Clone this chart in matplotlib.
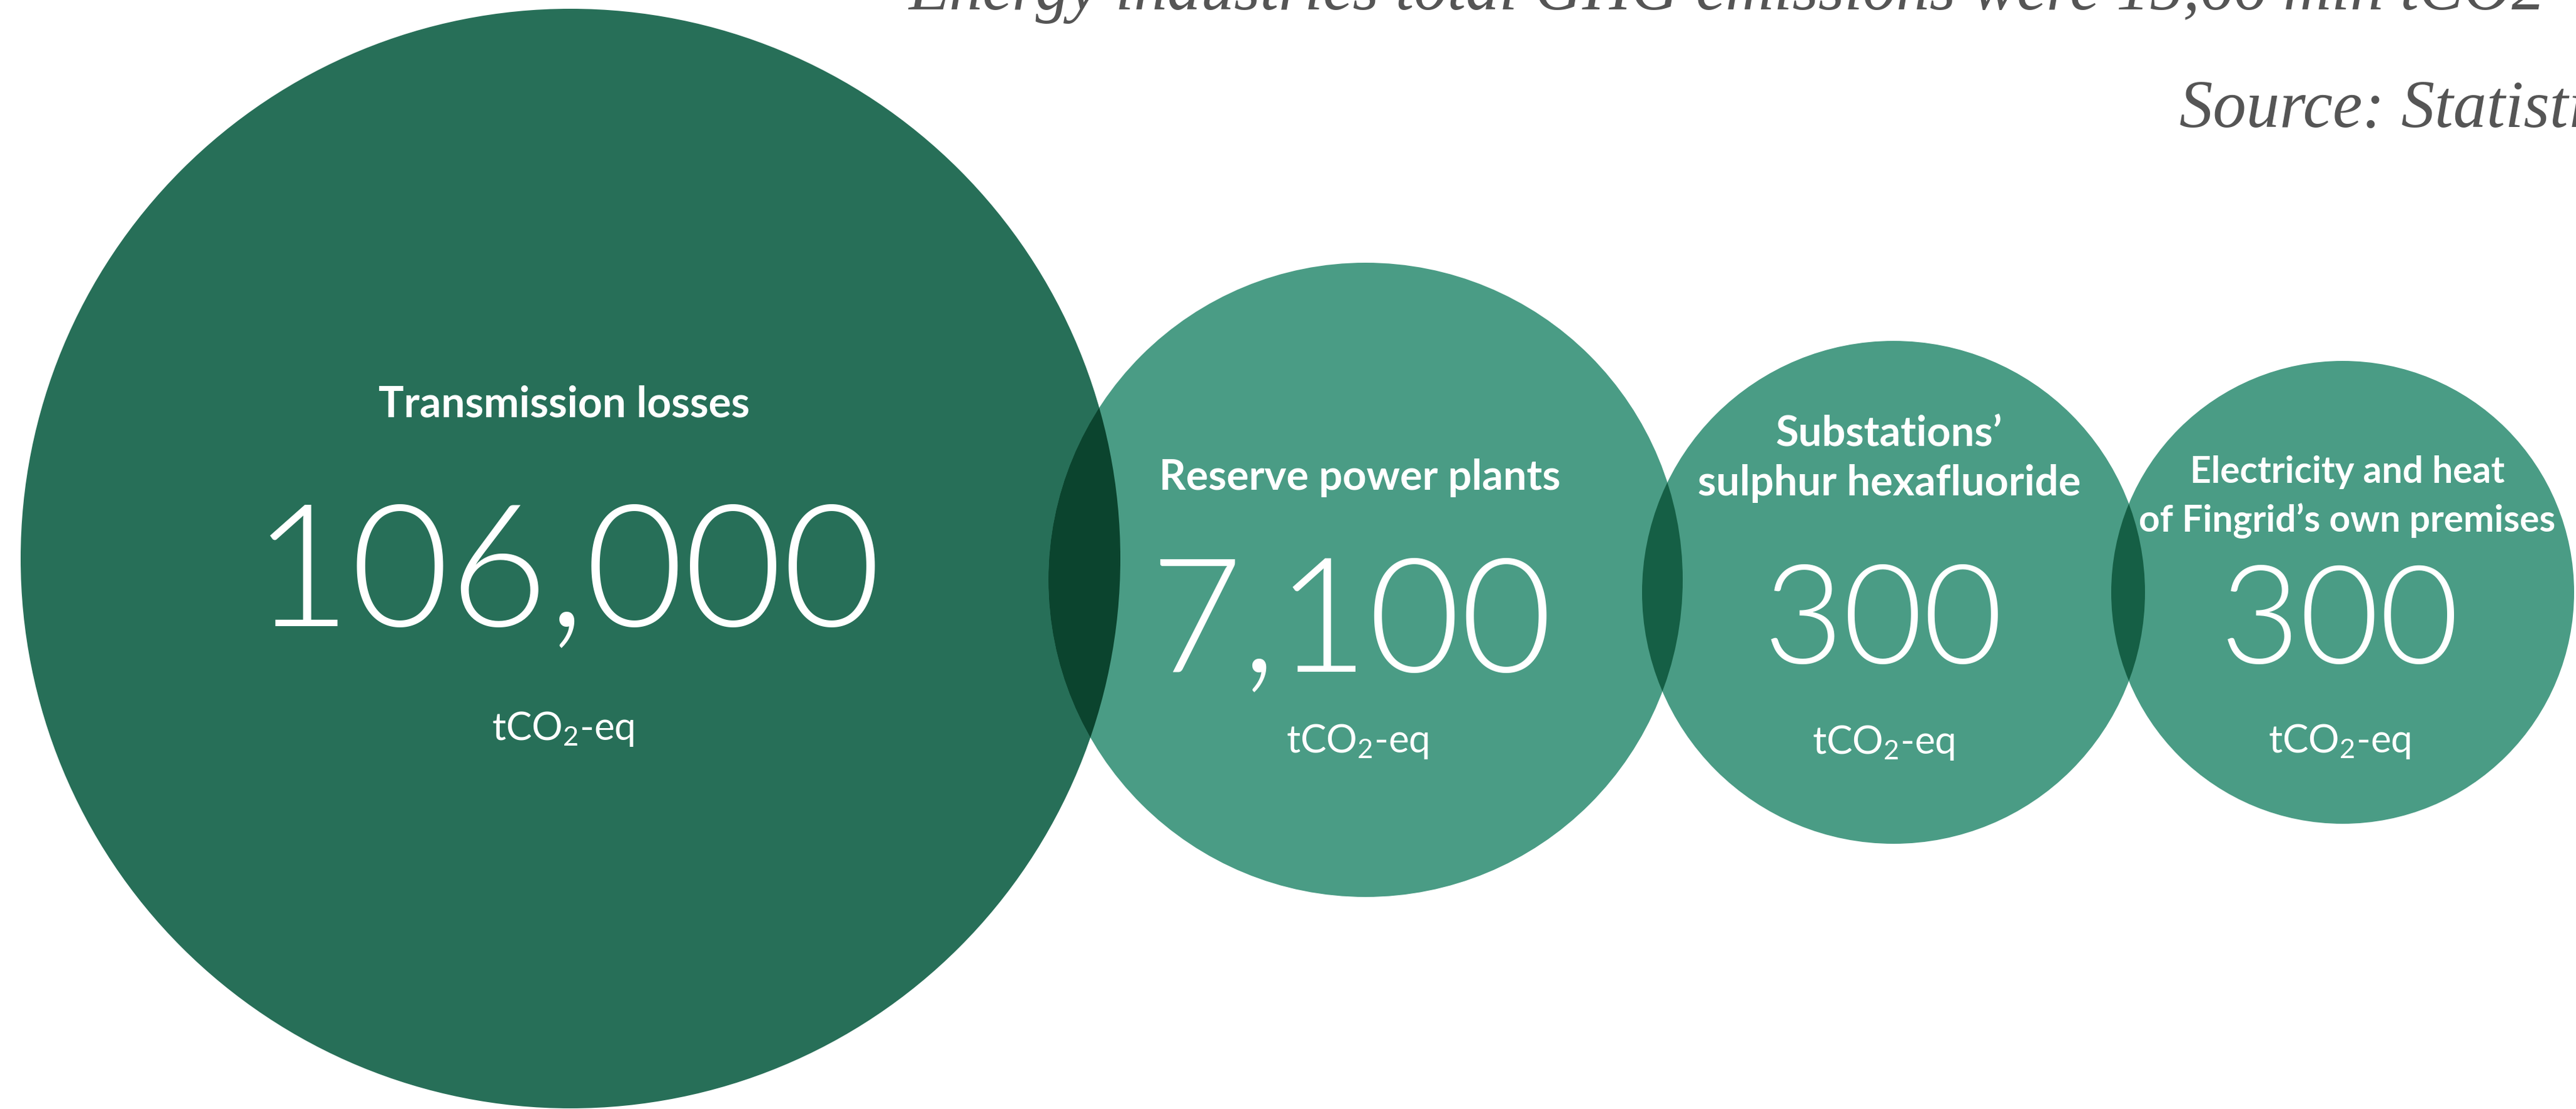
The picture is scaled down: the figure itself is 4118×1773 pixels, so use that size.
import os
import matplotlib
matplotlib.use("Agg")
import matplotlib.pyplot as plt
from matplotlib.patches import Circle
from matplotlib import colors as mcolors
from matplotlib import font_manager as fm

# ---- data -------------------------------------------------------------
categories = [
    ["Transmission losses"],
    ["Reserve power plants"],
    ["Substations\u2019", "sulphur hexafluoride"],
    ["Electricity and heat", "of Fingrid\u2019s own premises"],
]
values = [106000, 7100, 300, 300]
unit = "tCO$_2$-eq"
headline = "Energy industries total GHG emissions were 15,66 mln tCO2"
source = "Source: Statistics"

# ---- layout (pixel space, origin top-left) -----------------------------
W, H = 4118, 1774
centers = [(912, 894), (2183, 928), (3027, 948), (3745, 948)]
radii = [879, 507, 402, 370]
fills = ["#276F58", "#4A9C85", "#4A9C85", "#4A9C85"]

label_x = [902, 2174, 3020, 3752]
label_baselines = [[667], [783], [714, 792], [772, 850]]
label_widths = [593, 641, 612, 665]

number_x = [906, 2160, 3011, 3740]
number_baseline = [1000, 1073, 1060, 1060]
number_widths = [1006, 644, 384, 383]

unit_x = [900, 2170, 3011, 3740]
unit_baseline = [1183, 1203, 1205, 1203]
unit_width = 229

plt.rcParams["mathtext.fontset"] = "custom"
plt.rcParams["mathtext.rm"] = "Lato"
plt.rcParams["mathtext.default"] = "regular"


def light_face():
    """Prefer the upright Lato Light file for the big figures."""
    for f in fm.fontManager.ttflist:
        base = os.path.basename(f.fname).lower()
        if base.startswith("lato-light") and "italic" not in base:
            return fm.FontProperties(fname=f.fname)
    return fm.FontProperties(family="Lato", weight="normal")


number_font = light_face()

fig = plt.figure(figsize=(W / 100, H / 100), dpi=100)
ax = fig.add_axes([0, 0, 1, 1])
ax.set_xlim(0, W)
ax.set_ylim(H, 0)
ax.set_aspect("equal")
ax.axis("off")


def multiply(c1, c2):
    a = mcolors.to_rgb(c1)
    b = mcolors.to_rgb(c2)
    return tuple(x * y for x, y in zip(a, b))


# bubbles
for (cx, cy), r, fc in zip(centers, radii, fills):
    ax.add_patch(Circle((cx, cy), r, facecolor=fc, edgecolor="none", zorder=1))

# overlapping lenses, shaded like a multiply blend
for i in range(len(centers) - 1):
    clip = Circle(centers[i], radii[i], transform=ax.transData)
    lens = Circle(centers[i + 1], radii[i + 1],
                  facecolor=multiply(fills[i], fills[i + 1]),
                  edgecolor="none", zorder=2)
    ax.add_patch(lens)
    lens.set_clip_path(clip)

fig.canvas.draw()
renderer = fig.canvas.get_renderer()


def fit_width(t, target):
    w = t.get_window_extent(renderer).width
    t.set_fontsize(t.get_fontsize() * target / w)
    return t.get_fontsize()


white = "#FFFFFF"
for i in range(4):
    lines = categories[i]
    longest = max(range(len(lines)), key=lambda k: len(lines[k]))
    probe = ax.text(label_x[i], label_baselines[i][longest], lines[longest],
                    ha="center", va="baseline", color=white,
                    family="Lato", weight="bold", fontsize=40, zorder=5)
    fs = fit_width(probe, label_widths[i])
    for k, line in enumerate(lines):
        if k == longest:
            continue
        ax.text(label_x[i], label_baselines[i][k], line, ha="center",
                va="baseline", color=white, family="Lato", weight="bold",
                fontsize=fs, zorder=5)

    num = ax.text(number_x[i], number_baseline[i], f"{values[i]:,}",
                  ha="center", va="baseline", color=white,
                  fontproperties=number_font, zorder=5)
    num.set_fontsize(150)
    fit_width(num, number_widths[i])

    u = ax.text(unit_x[i], unit_baseline[i], unit, ha="center",
                va="baseline", color=white, family="Lato", weight="normal",
                fontsize=36, zorder=5)
    fit_width(u, unit_width)

# headline and source, set in a grey italic serif
head = ax.text(1452, 15, headline, ha="left", va="baseline", color="#555555",
               family="Liberation Serif", style="italic", fontsize=70, zorder=6)
hfs = fit_width(head, 2617)
ax.text(3484, 203, source, ha="left", va="baseline", color="#555555",
        family="Liberation Serif", style="italic", fontsize=hfs, zorder=6)

fig.savefig("out.png", dpi=100, facecolor="white")
